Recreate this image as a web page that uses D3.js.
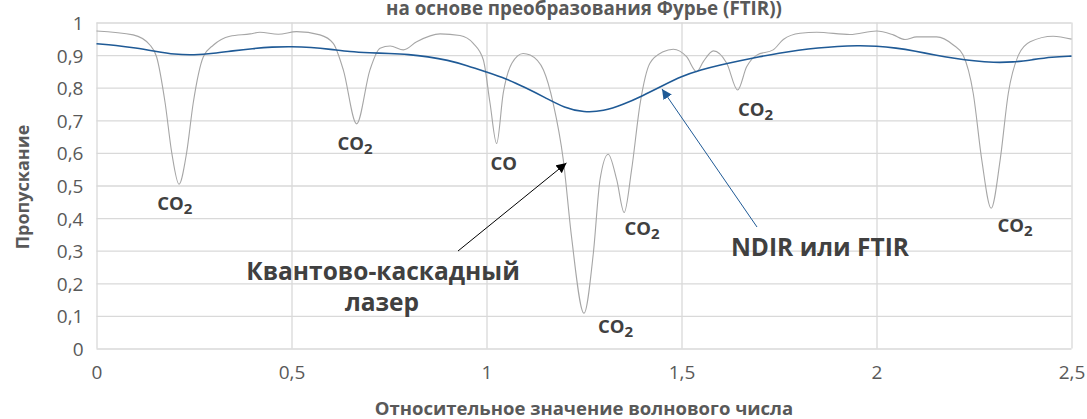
<!DOCTYPE html>
<html>
<head>
<meta charset="utf-8">
<script src="https://cdn.jsdelivr.net/npm/d3@7"></script>
<style>
	body { margin: 0; background: #fff; }
	text { font-family: "Open Sans", sans-serif; }
</style>
</head>
<body>
<svg id="chart" width="1087" height="419"></svg>
<script>
const W = 1087
const H = 419

// QCL spectrum (thin gray line)
const qclX = [0, 0.094, 0.137, 0.154, 0.176, 0.193, 0.2115, 0.231, 0.248, 0.274, 0.30, 0.342, 0.394, 0.419, 0.466, 0.513,
	0.573, 0.607, 0.633, 0.667, 0.701, 0.727, 0.753, 0.787, 0.821, 0.881, 0.932, 0.966, 0.992, 1.009, 1.026, 1.043,
	1.065, 1.094, 1.112, 1.146, 1.171, 1.197, 1.218, 1.25, 1.274, 1.291, 1.312, 1.334, 1.353, 1.372, 1.394, 1.419,
	1.453, 1.479, 1.513, 1.539, 1.556, 1.582, 1.616, 1.644, 1.667, 1.693, 1.735, 1.761, 1.804, 1.847, 1.932, 2.0,
	2.043, 2.073, 2.103, 2.154, 2.197, 2.222, 2.248, 2.27, 2.294, 2.317, 2.338, 2.364, 2.394, 2.453, 2.5]
const qclY = [0.974, 0.962, 0.931, 0.895, 0.753, 0.60, 0.504, 0.60, 0.753, 0.895, 0.931, 0.958, 0.965, 0.97, 0.964, 0.972,
	0.962, 0.936, 0.854, 0.689, 0.854, 0.921, 0.928, 0.916, 0.941, 0.965, 0.96, 0.936, 0.885, 0.753, 0.629, 0.784,
	0.875, 0.905, 0.90, 0.854, 0.752, 0.578, 0.343, 0.108, 0.293, 0.517, 0.596, 0.517, 0.417, 0.548, 0.752, 0.875,
	0.91, 0.918, 0.895, 0.849, 0.88, 0.913, 0.875, 0.793, 0.864, 0.90, 0.916, 0.948, 0.967, 0.970, 0.963, 0.974,
	0.962, 0.948, 0.956, 0.956, 0.931, 0.90, 0.783, 0.578, 0.43, 0.578, 0.783, 0.90, 0.941, 0.958, 0.949]

// NDIR / FTIR spectrum (blue line), step 0.05
const ndirX = d3.range(0, 2.5001, 0.05)
const ndirY = [0.935, 0.93, 0.922, 0.912, 0.902, 0.900, 0.905, 0.913, 0.92, 0.925, 0.926, 0.924, 0.918, 0.910, 0.907,
	0.905, 0.902, 0.895, 0.885, 0.868, 0.848, 0.828, 0.800, 0.770, 0.738, 0.724, 0.728, 0.748, 0.775, 0.805, 0.835,
	0.855, 0.87, 0.883, 0.895, 0.906, 0.915, 0.922, 0.927, 0.929, 0.928, 0.922, 0.912, 0.900, 0.890, 0.882, 0.877,
	0.878, 0.886, 0.894, 0.897]

const xTicks = [0, 0.5, 1, 1.5, 2, 2.5]
const yTicks = d3.range(0, 1.0001, 0.1)

// gas labels: [x, y, main, subscript]
const gasLabels = [
	[0.201, 0.425, 'CO', '2'],
	[0.663, 0.609, 'CO', '2'],
	[1.044, 0.547, 'CO', ''],
	[1.399, 0.348, 'CO', '2'],
	[1.331, 0.048, 'CO', '2'],
	[1.69, 0.714, 'CO', '2'],
	[2.355, 0.357, 'CO', '2'],
]

const margin = { left: 96.5, right: 1071.5, top: 22.5, bottom: 348.5 }

const x = d3.scaleLinear().domain([0, 2.5]).range([margin.left, margin.right])
const y = d3.scaleLinear().domain([0, 1]).range([margin.bottom, margin.top])

const svg = d3.select('#chart')

const fmt = d => d3.format('.1~f')(d).replace('.', ',')

// gridlines
svg.append('g')
	.attr('transform', `translate(0,${margin.bottom})`)
	.call(d3.axisBottom(x).tickValues(xTicks).tickSize(margin.top - margin.bottom).tickFormat(fmt).tickPadding(0))
	.call(g => g.select('.domain').remove())
	.call(g => g.selectAll('line').attr('stroke', '#d9d9d9').attr('stroke-width', 1.3))
	.call(g => g.selectAll('text')
		.attr('y', 30)
		.attr('dy', 0)
		.attr('fill', '#595959')
		.style('font-size', '19px'))

svg.append('g')
	.attr('transform', `translate(${margin.left},0)`)
	.call(d3.axisLeft(y).tickValues(yTicks).tickSize(margin.left - margin.right).tickFormat(fmt).tickPadding(0))
	.call(g => g.select('.domain').remove())
	.call(g => g.selectAll('line').attr('stroke', '#d9d9d9').attr('stroke-width', 1.3))
	.call(g => g.selectAll('text')
		.attr('x', -13)
		.attr('dy', 7)
		.attr('fill', '#595959')
		.style('font-size', '19px'))

// lines
const qcl = qclX.map((d, i) => [d, qclY[i]])
const ndir = ndirX.map((d, i) => [d, ndirY[i]])

const line = d3.line()
	.x(d => x(d[0]))
	.y(d => y(d[1]))

svg.append('path')
	.datum(qcl)
	.attr('d', line.curve(d3.curveMonotoneX))
	.attr('fill', 'none')
	.attr('stroke', '#a6a6a6')
	.attr('stroke-width', 1.1)

svg.append('path')
	.datum(ndir)
	.attr('d', line.curve(d3.curveBasis))
	.attr('fill', 'none')
	.attr('stroke', '#1f5a96')
	.attr('stroke-width', 1.6)

// gas labels
const gl = svg.append('g')
	.selectAll('text')
	.data(gasLabels)
	.join('text')
		.attr('x', d => x(d[0]))
		.attr('y', d => y(d[1]))
		.attr('text-anchor', 'middle')
		.attr('fill', '#404040')
		.style('font-weight', 'bold')
		.style('font-size', '18.5px')

gl.append('tspan').text(d => d[2])
gl.append('tspan')
	.attr('dy', 4)
	.style('font-size', '15px')
	.text(d => d[3])

// arrows
const defs = svg.append('defs')
function marker(id, color) {
	defs.append('marker')
		.attr('id', id)
		.attr('viewBox', '0 0 10 10')
		.attr('refX', 10)
		.attr('refY', 5)
		.attr('markerWidth', 10)
		.attr('markerHeight', 10)
		.attr('markerUnits', 'userSpaceOnUse')
		.attr('orient', 'auto')
	  .append('path')
		.attr('d', 'M0,0L10,5L0,10Z')
		.attr('fill', color)
}
marker('arrow-black', '#000')
marker('arrow-blue', '#1f5a96')

svg.append('line')
	.attr('x1', 458).attr('y1', 251)
	.attr('x2', x(1.205)).attr('y2', y(0.569))
	.attr('stroke', '#000')
	.attr('stroke-width', 1)
	.attr('marker-end', 'url(#arrow-black)')

svg.append('line')
	.attr('x1', 757).attr('y1', 227)
	.attr('x2', x(1.45)).attr('y2', y(0.796))
	.attr('stroke', '#1f5a96')
	.attr('stroke-width', 1)
	.attr('marker-end', 'url(#arrow-blue)')

// big annotation labels
const big = svg.append('g')
	.attr('fill', '#404040')
	.style('font-weight', 'bold')
	.style('font-size', '24.5px')
	.attr('text-anchor', 'middle')

big.append('text').attr('x', 383).attr('y', 280).text('Квантово-каскадный')
big.append('text').attr('x', 382).attr('y', 311).text('лазер')
big.append('text').attr('x', 820).attr('y', 256).text('NDIR или FTIR')

// titles
svg.append('text')
	.attr('x', 584)
	.attr('y', 15)
	.attr('text-anchor', 'middle')
	.attr('fill', '#595959')
	.style('font-weight', 'bold')
	.style('font-size', '18.8px')
	.text('на основе преобразования Фурье (FTIR))')

svg.append('text')
	.attr('x', 584)
	.attr('y', 415)
	.attr('text-anchor', 'middle')
	.attr('fill', '#595959')
	.style('font-weight', 'bold')
	.style('font-size', '18.5px')
	.text('Относительное значение волнового числа')

svg.append('text')
	.attr('transform', 'translate(29,187) rotate(-90)')
	.attr('text-anchor', 'middle')
	.attr('fill', '#595959')
	.style('font-weight', 'bold')
	.style('font-size', '18px')
	.text('Пропускание')
</script>
</body>
</html>
